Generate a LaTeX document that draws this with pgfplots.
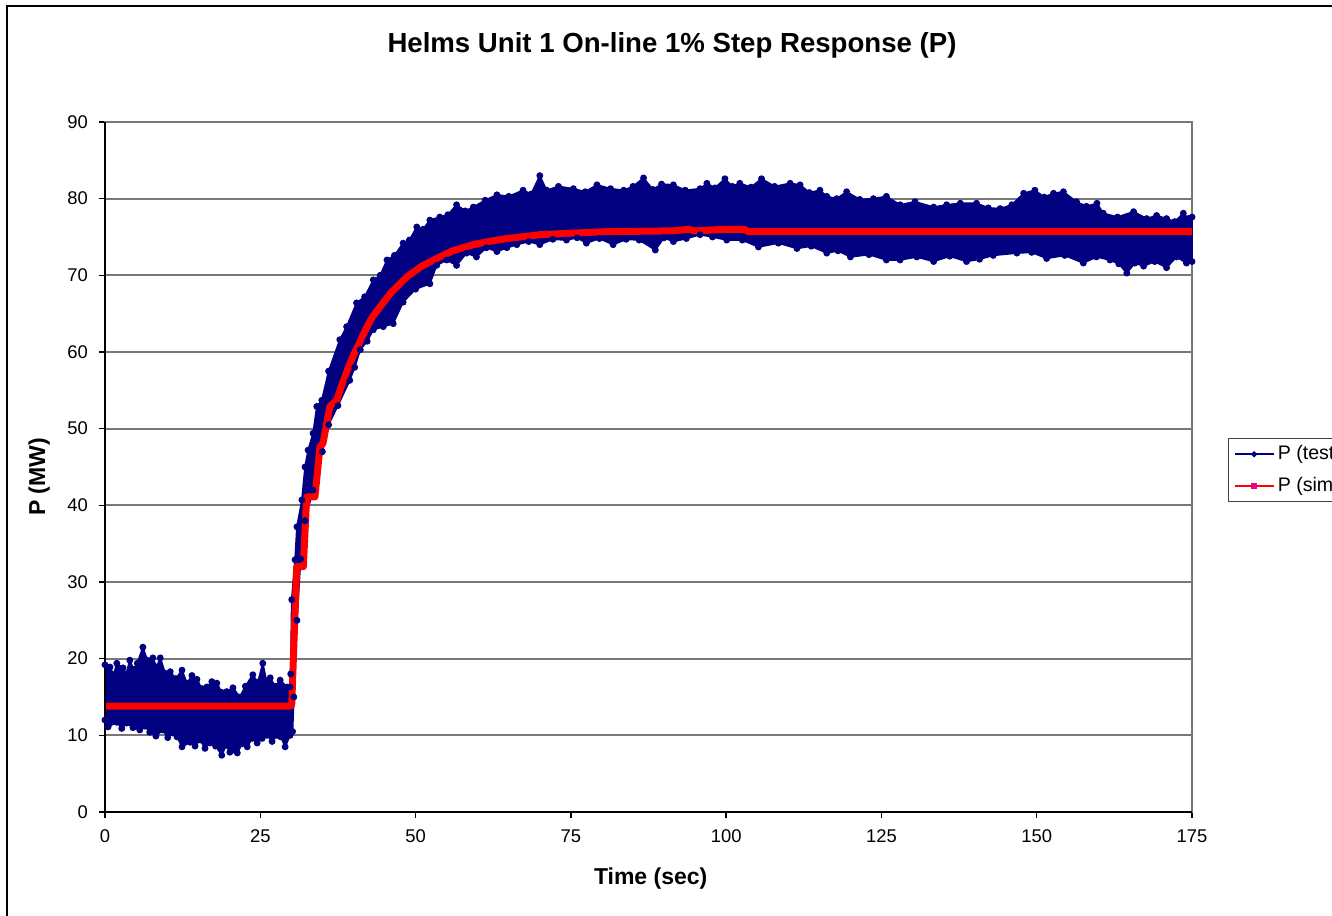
\documentclass[border=0pt]{standalone}
\usepackage{pgfplots}
\pgfplotsset{compat=1.18}
\usepackage{fontspec}
\setmainfont{Liberation Sans}
\definecolor{navyb}{RGB}{0,0,128}
\definecolor{gridg}{RGB}{120,120,120}
\begin{document}
\begin{tikzpicture}
\clip (-52.5pt,-51.5pt) rectangle (613.5pt,406pt);
\fill[white] (-52.5pt,-51.5pt) rectangle (613.5pt,406pt);
\draw[black, line width=1pt] (-49pt,-60pt) -- (-49pt,403pt) -- (640pt,403pt);
\begin{axis}[
  at={(0pt,0pt)}, anchor=south west,
  scale only axis, width=543.5pt, height=345pt,
  xmin=0, xmax=175, ymin=0, ymax=90,
  xtick={0,25,...,175}, ytick={0,10,...,90},
  tick pos=left, tick align=outside, major tick length=3pt,
  tick style={black, line width=0.75pt},
  axis line style={gridg, line width=0.9pt},
  ymajorgrids, major grid style={gridg, line width=0.9pt},
  clip=false,
  /pgf/number format/assume math mode=true,
  tick label style={font=\fontsize{9.2}{10}\selectfont},
  xticklabel style={yshift=-2.5pt},
  yticklabel style={xshift=-2pt},
  xlabel={\bfseries Time (sec)}, ylabel={\bfseries P (MW)},
  label style={font=\fontsize{11.5}{13}\selectfont},
  xlabel style={at={(axis description cs:0.502,-0.096)}, anchor=center},
  ylabel style={at={(axis description cs:-0.0605,0.4855)}, anchor=center},
  legend image code/.code={\draw[mark repeat=2,mark phase=2,#1] plot coordinates {(0pt,0pt) (9.75pt,0pt) (19.5pt,0pt)};},
  legend style={at={(axis description cs:1.0331,0.542)}, anchor=north west,
    draw=black!75, line width=0.6pt, font=\fontsize{9.8}{11}\selectfont,
    row sep=3.2pt, inner xsep=2.5pt, inner ysep=1.5pt, nodes={inner xsep=1.6pt}},
  legend cell align=left,
]
\addplot[draw=navyb, fill=navyb, line width=0.8pt, mark=*, mark size=1.3pt, mark options={fill=navyb, draw=navyb}, forget plot] coordinates {
(0,19.2)(0.8,18.9)(1.4,17.9)(1.9,19.4)(2.9,18.8)(3.4,18.0)(4.0,19.8)(4.6,18.6)(5.2,19.4)(6.1,21.5)(6.8,19.8)(7.7,20.1)(8.3,18.9)(8.9,20.1)(9.7,18.1)(10.5,18.3)(11.4,17.4)(12.4,18.5)(13.2,16.8)(14.0,17.8)(14.8,17.3)(15.6,16.1)(16.4,16.3)(17.2,17.0)(18.0,16.8)(18.8,15.6)(19.6,15.7)(20.6,16.2)(21.7,15.0)(22.6,16.4)(23.8,17.9)(24.6,16.9)(25.4,19.4)(26.0,17.1)(26.6,17.5)(27.4,16.4)(28.2,17.2)(29.3,16.3)(29.8,16.3)(29.9,18.0)
(30.06,27.7)(30.6,32.9)(30.9,37.2)(31.7,40.7)(32.2,45.0)(32.7,47.2)(33.5,49.4)(34.1,52.9)(34.9,53.7)(36.0,57.5)(37.8,61.6)(38.9,63.3)(40.5,66.4)(41.8,67.2)(43.2,69.4)(44.3,70.0)(45.4,72.0)(46.6,72.6)(48.0,74.2)(49.0,74.6)(50.2,76.3)(51.2,76.0)(52.3,77.2)(53.9,77.6)(55.2,77.9)(56.6,79.2)(58.0,78.4)(59.3,78.9)(61.2,79.8)(63.1,80.5)(65.0,80.3)(67.3,81.1)(68.6,80.6)(70.0,83.0)(71.1,81.1)(73.0,81.6)(75.4,81.3)(77.3,80.9)(79.2,81.8)(81.4,81.3)(83.5,81.1)(85.0,81.6)(86.7,82.7)(88.2,81.2)(89.6,81.9)(91.5,81.8)(93.4,81.1)(95.8,81.3)(96.9,82.0)(98.2,81.4)(99.8,82.6)(101.0,81.6)(102.2,82.0)(104.0,81.5)(105.7,82.6)(107.8,81.6)(110.3,82.0)(111.9,81.8)(113.4,80.8)(115.1,81.1)(116.2,80.3)(117.8,80.0)(119.4,80.9)(121.5,79.9)(123.7,80.0)(125.8,80.3)(128.0,79.2)(130.4,79.6)(133.4,78.9)(135.5,79.2)(137.7,79.4)(140.3,79.4)(142.2,78.8)(144.1,78.7)(146.0,79.2)(147.9,80.7)(149.7,81.1)(151.2,80.2)(152.7,80.7)(154.3,80.9)(156.4,79.6)(158.0,79.0)(159.7,79.4)(160.7,78.1)(163.0,77.6)(165.6,78.3)(167.7,77.4)(169.3,77.8)(170.9,77.4)(172.2,77.0)(173.6,78.1)(174.4,77.4)(175,77.6)
(175,71.8)(174.1,71.6)(172.5,72.4)(170.9,71.0)(169.0,71.8)(167.2,71.2)(165.8,71.6)(164.5,70.3)(163.2,71.5)(161.8,72.0)(159.6,72.4)(157.5,71.6)(154.5,72.6)(151.6,72.2)(149.2,73.0)(146.8,72.9)(143.0,72.6)(140.8,72.1)(138.7,71.8)(136.0,72.5)(133.4,71.8)(130.7,72.4)(128.0,72.0)(125.8,72.0)(123.0,72.7)(120.0,72.4)(118.0,73.2)(116.2,72.9)(113.7,73.8)(111.4,73.5)(108.4,74.2)(105.2,73.7)(102.6,74.6)(100.1,74.6)(97.8,75.0)(95.8,75.3)(93.6,74.8)(91.5,74.4)(90.0,74.9)(88.6,73.3)(86.0,74.6)(83.9,74.7)(81.8,74.0)(79.6,74.8)(77.5,74.2)(76.0,74.9)(74.3,74.6)(72.1,74.7)(70.0,74.0)(68.2,74.4)(66.3,74.0)(64.7,73.6)(63.1,73.1)(61.4,73.6)(59.8,72.4)(58.2,72.9)(56.6,71.3)(55.0,72.0)(53.4,71.3)(52.3,68.9)(50.0,68.2)(48.0,66.5)(46.4,63.7)(44.8,63.3)(43.2,62.9)(42.2,61.4)(41.1,60.3)(40.2,58.0)(39.4,56.3)(37.5,53.0)(36.0,50.5)(35.0,47.0)(33.5,42.0)(32.2,38.0)(31.5,33.0)(30.9,25.0)(30.4,15.0)(30.2,10.5)(29.8,10.0)
(29.0,8.5)(28.3,9.8)(27.7,10.0)(26.9,9.2)(26.1,10.0)(25.3,9.6)(24.5,9.0)(23.7,9.6)(22.9,8.5)(22.1,8.9)(21.3,7.7)(20.1,7.8)(19.5,8.7)(18.8,7.4)(17.8,8.6)(16.9,9.0)(16.1,8.3)(15.3,9.4)(14.5,8.6)(13.7,9.1)(12.4,8.5)(11.6,9.8)(10.9,10.3)(10.1,9.7)(9.3,10.7)(8.2,9.9)(7.2,10.4)(6.4,11.2)(5.6,10.7)(4.5,11.0)(3.5,11.6)(2.7,10.9)(1.9,11.7)(0.5,11.1)(0,12.0)
} -- cycle;
\addlegendimage{navyb, line width=1pt, mark=*, mark size=0.9pt}
\addlegendentry{P (test)}
\addplot[red, line width=3.5pt, line join=round, forget plot] coordinates {
(0,13.8)(29.9,13.8)(30.06,14.0)(30.86,32.0)(31.93,32.0)(32.47,41.1)(33.8,41.1)(34.6,47.6)(35.1,48.1)(36.2,52.9)(37.3,53.7)(38.0,55.4)(39.0,57.6)(40.0,59.6)(41.1,61.4)(42.0,63.0)(43.0,64.5)(44.3,65.9)(46.0,67.7)(48.6,69.8)(51.0,71.2)(53.9,72.4)(56.0,73.2)(59.3,74.0)(62.0,74.45)(64.7,74.8)(68.0,75.1)(70.0,75.3)(75.0,75.5)(80.8,75.7)(91.4,75.8)(94.0,76.0)(95.0,75.8)(99.8,76.0)(103.0,76.0)(103.5,75.7)(175,75.7)
};
\addlegendimage{red, line width=1pt, mark=square*, mark size=1.1pt, mark options={fill=magenta, draw=magenta}}
\addlegendentry{P (sim)}
\draw[black, line width=0.9pt] (axis cs:0,90) -- (axis cs:0,0) -- (axis cs:175,0);
\end{axis}
\node[font=\fontsize{13.8}{16}\selectfont\bfseries] at (283.5pt,383.5pt) {Helms Unit 1 On-line 1\% Step Response (P)};
\end{tikzpicture}
\end{document}
